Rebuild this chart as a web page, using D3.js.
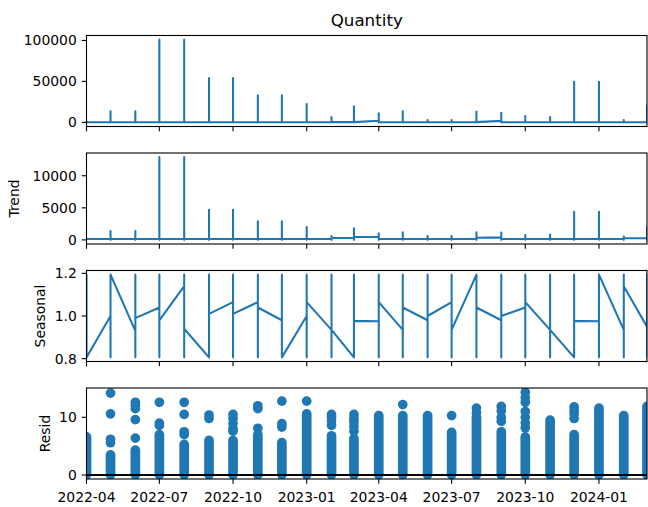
<!DOCTYPE html>
<html><head><meta charset="utf-8">
<script src="https://cdn.jsdelivr.net/npm/d3@7/dist/d3.min.js"></script>
<style>
html,body{margin:0;padding:0;background:#fff;}
svg{display:block;font-family:"DejaVu Sans",sans-serif;}
</style></head><body>
<svg id="chart" width="648" height="507"></svg>
<script>
// ---------- data ----------
const months = ["2022-04-01","2022-05-01","2022-06-01","2022-07-01","2022-08-01","2022-09-01",
  "2022-10-01","2022-11-01","2022-12-01","2023-01-01","2023-02-01","2023-03-01",
  "2023-04-01","2023-05-01","2023-06-01","2023-07-01","2023-08-01","2023-09-01",
  "2023-10-01","2023-11-01","2023-12-01","2024-01-01","2024-02-01","2024-03-01"];

const xTickDates  = ["2022-04-01","2022-07-01","2022-10-01","2023-01-01","2023-04-01","2023-07-01","2023-10-01","2024-01-01"];
const xTickLabels = ["2022-04","2022-07","2022-10","2023-01","2023-04","2023-07","2023-10","2024-01"];

// Observed (Quantity): per month first row, max, min, last row
const qtyMax   = [1200,13500,13500,101000,101000,54200,54200,33000,33000,22500,6400,19700,
                  11200,13600,2800,2800,13300,11600,7600,6400,49400,49400,2800,20900];
const qtyMin   = [1,1,1,1,1,1,1,1,1,1,1,1,1,1,1,1,1,1,1,1,1,1,1,1];
const qtyFirst = [200,200,200,200,200,200,200,200,200,200,200,300,2000,200,200,200,200,1800,200,200,200,200,200,200];
const qtyLast  = [200,200,200,200,200,200,200,200,200,200,300,300,200,200,200,200,300,200,200,200,200,200,200,200];

// Trend
const trendMax   = [150,1400,1400,12900,12900,4700,4700,2900,2900,2000,620,1800,
                    1040,1200,620,620,1200,1140,780,830,4400,4400,520,2000];
const trendMin   = [10,10,10,10,10,10,10,10,10,10,10,10,10,10,10,10,10,10,10,10,10,10,10,10];
const trendFirst = [150,150,150,150,150,150,150,150,150,150,150,350,450,150,150,150,150,400,150,150,150,150,150,300];
const trendLast  = [150,150,150,150,150,150,150,150,150,150,300,450,150,150,150,150,350,150,150,150,150,150,250,300];

// Seasonal
const seasMin   = [0.806,0.806,0.806,0.806,0.806,0.806,0.806,0.806,0.806,0.806,0.806,0.806,
                   0.806,0.806,0.806,0.806,0.806,0.806,0.806,0.806,0.806,0.806,0.806,0.806];
const seasMax   = [1.194,1.194,1.194,1.194,1.194,1.194,1.194,1.194,1.194,1.194,1.194,1.194,
                   1.194,1.194,1.194,1.194,1.194,1.194,1.194,1.194,1.194,1.194,1.194,1.194];
const seasFirst = [0.806,1.0,0.93,1.04,1.14,0.806,1.065,1.065,0.98,1.0,0.935,0.806,
                   0.975,0.935,0.98,1.065,1.194,0.98,1.04,0.935,0.806,0.975,0.935,0.95];
const seasLast  = [0.806,1.194,0.99,0.98,0.94,1.01,1.01,1.04,0.806,1.065,0.935,0.977,
                   1.065,1.04,1.0,0.935,1.04,1.0,1.065,0.935,0.977,1.194,1.14,0.95];

// Residuals: dense column low/top and isolated points per month
const residLow = [0.03,0.03,0.03,0.03,0.03,0.03,0.03,0.03,0.03,0.03,0.03,0.03,
                  0.03,0.03,0.03,0.03,0.03,0.03,0.03,0.03,0.03,0.03,0.03,0.03];
const residTop = [6.6,3.5,4.3,7.0,5.3,6.0,6.0,7.0,5.6,10.6,6.8,6.3,
                  10.3,10.3,10.3,7.4,10.0,7.5,6.6,9.5,7.0,11.6,10.3,11.9];
const residExtra = [[],[5.6,6.2,10.6,14.2],[6.4,9.6,11.5,12.1,12.6],[8.6,9.0,12.6],[7.0,7.5,10.5,12.6],
  [9.8,10.4],[7.6,8.0,8.9,9.8,10.5],[8.1,11.5,12.0],[8.3,8.9,12.8],[12.8],[8.6,9.4,10.0,10.5],
  [7.6,8.4,9.2,9.8,10.5],[],[12.2],[],[10.3],[10.8,11.6],[9.3,10.0,11.1,11.9],
  [8.2,9.0,10.0,11.0,12.6,13.4,14.36],[],[9.8,10.6,11.2,11.8],[],[],[]];

const yTicks = {
  Quantity: [0,50000,100000],
  Trend: [0,5000,10000],
  Seasonal: [0.8,1.0,1.2],
  Resid: [0,10]
};

// ---------- drawing ----------
const BLUE = "#1f77b4";
const FS = 13.9;
const LEFT = 86.5, RIGHT = 647, TOPS = [35.5,153,270.5,388], PH = 91;
const svg = d3.select("#chart");
const dates = months.map(d => new Date(d + "T00:00:00Z"));
const x = d3.scaleUtc().domain([dates[0], dates[dates.length-1]]).range([LEFT, RIGHT]);

function padded(lo, hi){ const r = hi - lo; return [lo - 0.05*r, hi + 0.05*r]; }
function linePoints(first, mx, mn, last){
  const pts = [];
  dates.forEach((d,i) => { pts.push([d, first[i]], [d, mx[i]], [d, mn[i]], [d, last[i]]); });
  return pts;
}

const panels = [
  {name:"Quantity", pts: linePoints(qtyFirst, qtyMax, qtyMin, qtyLast), fmt: d3.format("d"), ylabel:null},
  {name:"Trend",    pts: linePoints(trendFirst, trendMax, trendMin, trendLast), fmt: d3.format("d"), ylabel:"Trend", lx:19},
  {name:"Seasonal", pts: linePoints(seasFirst, seasMax, seasMin, seasLast), fmt: d3.format(".1f"), ylabel:"Seasonal", lx:45},
  {name:"Resid", resid:true, fmt: d3.format("d"), ylabel:"Resid", lx:50}
];

panels.forEach((p, k) => {
  const top = TOPS[k], bot = top + PH;
  let lo, hi;
  if (p.resid) {
    lo = d3.min(residLow); hi = d3.max([d3.max(residTop), d3.max(residExtra.flat())]);
  } else {
    lo = d3.min(p.pts, d => d[1]); hi = d3.max(p.pts, d => d[1]);
  }
  const y = d3.scaleLinear().domain(padded(lo, hi)).range([bot, top]);
  const clipId = "clip" + k;
  svg.append("clipPath").attr("id", clipId).append("rect")
    .attr("x", LEFT).attr("y", top).attr("width", RIGHT - LEFT).attr("height", PH);
  const g = svg.append("g").attr("clip-path", `url(#${clipId})`);

  if (!p.resid) {
    g.append("path").datum(p.pts)
      .attr("d", d3.line().x(d => x(d[0])).y(d => y(d[1])))
      .attr("fill", "none").attr("stroke", BLUE).attr("stroke-width", 2.08)
      .attr("stroke-linejoin", "round").attr("stroke-linecap", "square");
  } else {
    g.selectAll("line.col").data(dates).enter().append("line")
      .attr("x1", d => x(d)).attr("x2", d => x(d))
      .attr("y1", (d,i) => y(residLow[i])).attr("y2", (d,i) => y(residTop[i]))
      .attr("stroke", BLUE).attr("stroke-width", 9.7).attr("stroke-linecap", "round");
    const extras = [];
    residExtra.forEach((arr, i) => arr.forEach(v => extras.push([dates[i], v])));
    g.selectAll("circle").data(extras).enter().append("circle")
      .attr("cx", d => x(d[0])).attr("cy", d => y(d[1])).attr("r", 4.85).attr("fill", BLUE);
    g.append("line").attr("x1", LEFT).attr("x2", RIGHT).attr("y1", y(0)).attr("y2", y(0))
      .attr("stroke", "#000").attr("stroke-width", 2.08);
  }

  // spines
  svg.append("rect").attr("x", LEFT).attr("y", top).attr("width", RIGHT - LEFT).attr("height", PH)
    .attr("fill", "none").attr("stroke", "#000").attr("stroke-width", 1.1);

  // y ticks
  yTicks[p.name].forEach(v => {
    const yy = y(v);
    svg.append("line").attr("x1", LEFT - 4.86).attr("x2", LEFT).attr("y1", yy).attr("y2", yy)
      .attr("stroke", "#000").attr("stroke-width", 1.1);
    svg.append("text").attr("x", LEFT - 9.7).attr("y", yy + 5.0)
      .attr("text-anchor", "end").attr("font-size", FS).attr("fill", "#000").text(p.fmt(v));
  });

  // x ticks
  xTickDates.forEach((ds, i) => {
    const xx = x(new Date(ds + "T00:00:00Z"));
    svg.append("line").attr("x1", xx).attr("x2", xx).attr("y1", bot).attr("y2", bot + 4.86)
      .attr("stroke", "#000").attr("stroke-width", 1.1);
    if (k === panels.length - 1) {
      svg.append("text").attr("x", xx).attr("y", 501.5).attr("text-anchor", "middle")
        .attr("font-size", FS).attr("fill", "#000").text(xTickLabels[i]);
    }
  });

  if (p.ylabel) {
    const cy = (top + bot) / 2;
    svg.append("text").attr("transform", `translate(${p.lx},${cy}) rotate(-90)`)
      .attr("text-anchor", "middle").attr("font-size", FS).attr("fill", "#000").text(p.ylabel);
  }
  if (k === 0) {
    svg.append("text").attr("x", (LEFT + RIGHT) / 2).attr("y", 26).attr("text-anchor", "middle")
      .attr("font-size", 16.7).attr("fill", "#000").text(p.name);
  }
});
</script>
</body></html>
